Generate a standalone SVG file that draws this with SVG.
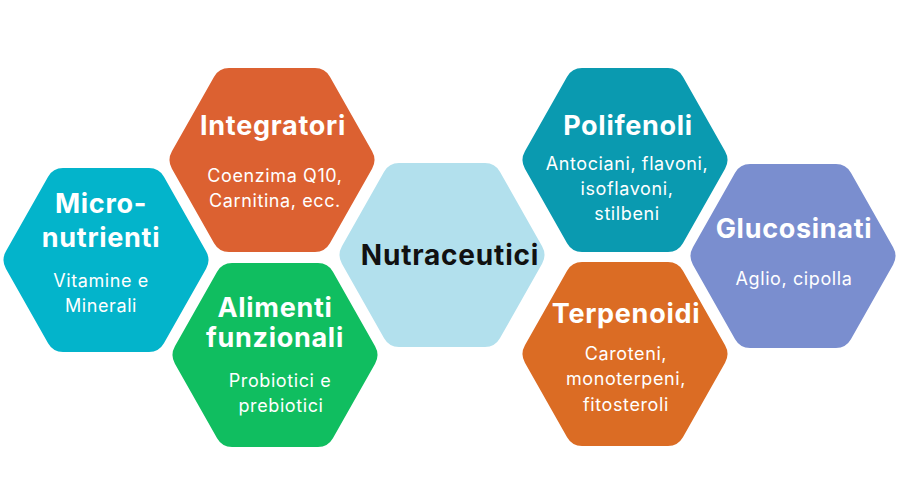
<svg xmlns="http://www.w3.org/2000/svg" xmlns:xlink="http://www.w3.org/1999/xlink" width="900" height="500" viewBox="0 0 900 500">
<defs>
<path id="hex" d="M -100.08,-8.70 L -57.92,-83.30 Q -53,-92 -43,-92 L 43,-92 Q 53,-92 57.92,-83.30 L 100.08,-8.70 Q 105,0 100.08,8.70 L 57.92,83.30 Q 53,92 43,92 L -43,92 Q -53,92 -57.92,83.30 L -100.08,8.70 Q -105,0 -100.08,-8.70 Z"/>
<style>
.t{font-family:Inter,"Liberation Sans",sans-serif;font-weight:700;font-size:27px;letter-spacing:0.7px;fill:#ffffff;text-anchor:middle}
.s{font-family:Inter,"Liberation Sans",sans-serif;font-weight:400;font-size:18px;letter-spacing:0.6px;fill:#ffffff;text-anchor:middle}
.c{font-family:Inter,"Liberation Sans",sans-serif;font-weight:700;font-size:28px;letter-spacing:0.8px;fill:#111111;text-anchor:middle}
</style>
</defs>
<rect width="900" height="500" fill="#ffffff"/>
<g id="connectors"/>
<g id="micronutrienti">
<use xlink:href="#hex" href="#hex" transform="translate(106,260)" fill="#03b4cb"/>
<text class="t" x="101" y="213">Micro-</text>
<text class="t" x="101" y="247">nutrienti</text>
<text class="s" x="101" y="287">Vitamine e</text>
<text class="s" x="101" y="312">Minerali</text>
</g>
<g id="integratori">
<use xlink:href="#hex" href="#hex" transform="translate(272,160)" fill="#dc6131"/>
<text class="t" x="273" y="135">Integratori</text>
<text class="s" x="275" y="182">Coenzima Q10,</text>
<text class="s" x="275" y="207">Carnitina, ecc.</text>
</g>
<g id="alimenti">
<use xlink:href="#hex" href="#hex" transform="translate(275,355)" fill="#10be60"/>
<text class="t" x="275" y="317">Alimenti</text>
<text class="t" x="275" y="347">funzionali</text>
<text class="s" x="280" y="387">Probiotici e</text>
<text class="s" x="281" y="412">prebiotici</text>
</g>
<g id="nutraceutici">
<use xlink:href="#hex" href="#hex" transform="translate(442,255)" fill="#b2e0ed"/>
<text class="c" x="450" y="265">Nutraceutici</text>
</g>
<g id="polifenoli">
<use xlink:href="#hex" href="#hex" transform="translate(625,160)" fill="#0a9ab0"/>
<text class="t" x="628" y="135">Polifenoli</text>
<text class="s" x="627" y="170">Antociani, flavoni,</text>
<text class="s" x="627" y="195">isoflavoni,</text>
<text class="s" x="627" y="220">stilbeni</text>
</g>
<g id="terpenoidi">
<use xlink:href="#hex" href="#hex" transform="translate(625,354)" fill="#db6c24"/>
<text class="t" x="626" y="323">Terpenoidi</text>
<text class="s" x="626" y="360">Caroteni,</text>
<text class="s" x="626" y="385">monoterpeni,</text>
<text class="s" x="626" y="411">fitosteroli</text>
</g>
<g id="glucosinati">
<use xlink:href="#hex" href="#hex" transform="translate(793,256)" fill="#7a8ecf"/>
<text class="t" x="794" y="238">Glucosinati</text>
<text class="s" x="794" y="285">Aglio, cipolla</text>
</g>
</svg>
